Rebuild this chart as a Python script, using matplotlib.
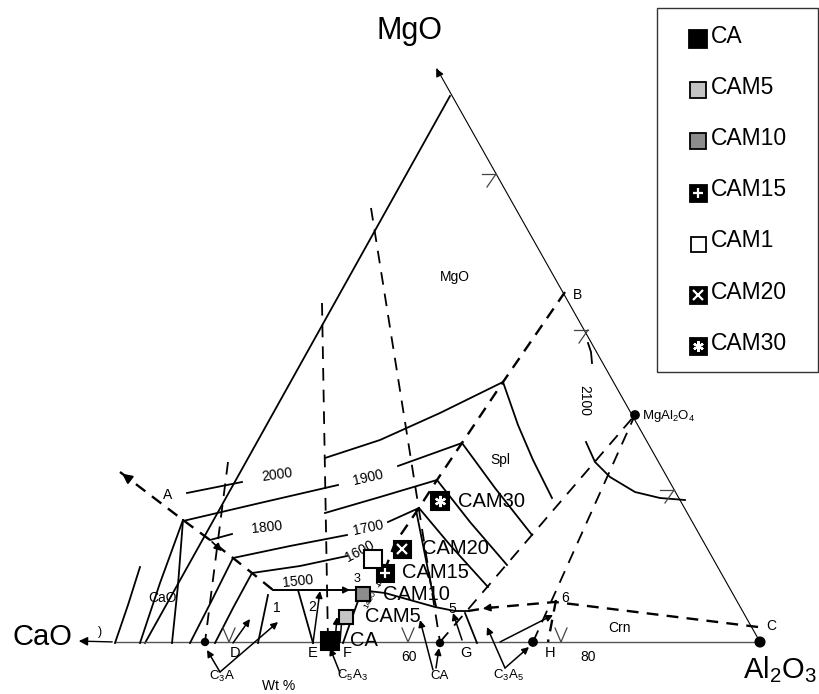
import matplotlib
matplotlib.use("Agg")
import matplotlib.pyplot as plt
from matplotlib.patches import Rectangle

plt.rcParams['font.family'] = ['Liberation Sans', 'DejaVu Sans']
plt.rcParams['mathtext.fontset'] = 'custom'
plt.rcParams['mathtext.rm'] = 'Liberation Sans'
plt.rcParams['mathtext.it'] = 'Liberation Sans'

# ---------------- data (diagram units: x right, y down) ----------------
samples = ["CA", "CAM5", "CAM10", "CAM15", "CAM1", "CAM20", "CAM30"]
sample_x = [330, 346, 363, 385, 373, 402, 440]
sample_y = [641, 617, 594, 573, 559, 549, 501]
sample_face = ["black", "#c4c4c4", "#8c8c8c", "black", "white", "black", "black"]
sample_overlay = [None, None, None, "+", None, "x", (6, 2, 0)]
label_dx = [20, 19, 20, 17, None, 20, 18]   # None = no label beside marker

# triangle frame
right_edge_x = [760, 437]
right_edge_y = [642, 69]
left_edge_x = [450, 145]
left_edge_y = [96, 643]
base_x = [115, 760]
base_y = [642, 642]

# dashed composition joins
join_c3a_x = [228, 205];  join_c3a_y = [462, 642]
join_c5a3_x = [322, 328]; join_c5a3_y = [303, 642]
join_ca_x = [371, 440];   join_ca_y = [208, 642]
join_ca_spl_x = [440, 635]; join_ca_spl_y = [642, 415]
join_c3a5_spl_x = [533, 635]; join_c3a5_spl_y = [642, 415]

# dashed field boundaries
bound_A_x = [120, 183, 210, 233, 252, 273]
bound_A_y = [472, 520, 540, 558, 573, 590]
bound_B_x = [565, 503, 462, 437, 419, 395, 383]
bound_B_y = [292, 382, 443, 480, 508, 543, 575]
bound_C_x = [758, 555, 487, 468]
bound_C_y = [627, 602, 608, 611]

# isotherms (solid)
iso2000L_x = [187, 242];            iso2000L_y = [493, 482]
iso2000R_x = [325, 380, 440, 503];  iso2000R_y = [458, 440, 413, 382]
iso1900L_x = [183, 260, 338];       iso1900L_y = [521, 503, 485]
iso1900R_x = [398, 462];            iso1900R_y = [466, 443]
iso1800L_x = [210, 232];            iso1800L_y = [540, 534]
iso1800R_x = [325, 380, 437];       iso1800R_y = [513, 497, 480]
iso1700L_x = [233, 290, 347];       iso1700L_y = [558, 546, 535]
iso1700R_x = [388, 419];            iso1700R_y = [522, 508]
iso1600L_x = [252, 300, 347];       iso1600L_y = [573, 566, 556]
iso1500_x = [273, 360];             iso1500_y = [590, 590]

# spinel-field isotherms
spl1_x = [503, 518, 533, 552]; spl1_y = [382, 425, 460, 498]
spl2_x = [462, 495, 532];      spl2_y = [443, 488, 535]
spl3_x = [437, 470, 507];      spl3_y = [480, 522, 565]
spl4_x = [419, 450, 488];      spl4_y = [508, 545, 587]
spl5_x = [416, 424, 431, 436]; spl5_y = [510, 550, 585, 606]
spl2100_x = [586, 595, 610, 635, 660, 685]
spl2100_y = [442, 462, 477, 492, 498, 500]
arcB_x = [588, 591, 592];      arcB_y = [343, 352, 363]

# lime field
cao1_x = [115, 128, 140]; cao1_y = [643, 605, 567]
cao2_x = [140, 160, 183]; cao2_y = [643, 583, 520]
cao3_x = [172, 178, 183]; cao3_y = [643, 585, 520]
cao4_x = [190, 212, 233]; cao4_y = [643, 600, 558]
cao5_x = [215, 233, 252]; cao5_y = [643, 608, 573]

# univariant lines near the base
curve35_x = [360, 385, 410, 435, 455, 468]
curve35_y = [590, 593, 600, 607, 611, 611]
line3F_x = [363, 343];  line3F_y = [587, 643]
lineE1_x = [298, 313];  lineE1_y = [590, 643]
lineD_x = [268, 258];   lineD_y = [595, 643]
lineG_x = [465, 477];   lineG_y = [613, 643]
lineH_x = [556, 548];   lineH_y = [600, 642]

# points on the diagram
dots_x = [205, 440, 533, 760, 635]
dots_y = [642, 643, 642, 642, 415]
dots_s = [5, 5, 6, 7, 6]

# arrows: (tail_x, tail_y) -> (head_x, head_y)
arrow_tail_x = [313, 233, 273, 462, 500, 220, 220, 340, 433, 436, 505, 505, 335, 340]
arrow_tail_y = [643, 643, 590, 640, 642, 672, 672, 673, 670, 668, 668, 668, 642, 642]
arrow_head_x = [320, 250, 350, 453, 553, 207, 278, 330, 420, 439, 487, 529, 337, 342]
arrow_head_y = [591, 619, 590, 613, 615, 650, 622, 648, 620, 648, 627, 647, 617, 617]

# text labels
txt = ["2000", "1900", "1800", "1700", "1600", "1500", "2100",
       "MgO", "Spl", "CaO", "Crn", "A", "B", "C", "1", "2", "3", "4", "5", "6",
       "D", "E", "F", "G", "H", "60", "80", "Wt %",
       "C$_3$A", "C$_5$A$_3$", "CA", "C$_3$A$_5$", "1400"]
txt_x = [277, 368, 267, 368, 360, 298, 584,
         455, 500, 163, 620, 168, 578, 771, 277, 312, 357, 378, 452, 565,
         235, 313, 347, 466, 550, 409, 588, 279,
         222, 352, 440, 508, 370]
txt_y = [475, 478, 527, 528, 551, 581, 400,
         277, 460, 598, 628, 495, 295, 626, 608, 607, 579, 584, 609, 598,
         653, 653, 653, 653, 653, 657, 657, 686,
         676, 675, 676, 675, 600]
txt_rot = [8, 13, 6, 12, 28, 6, -90,
           0, 0, 0, 0, 0, 0, 0, 0, 0, 0, -30, 0, 0,
           0, 0, 0, 0, 0, 0, 0, 0,
           0, 0, 0, 0, 62]
txt_size = [10, 10, 10, 10, 10, 10, 10,
            10, 10, 10, 10, 10, 10, 10, 10, 10, 9, 8, 10, 10,
            10.5, 10.5, 10.5, 10.5, 10.5, 10, 10, 10,
            9.5, 9.5, 9.5, 9.5, 6]

# marker sizes in pixels (plot, legend)
sample_px = [18, 14, 14, 17, 18, 17, 18]
legend_px = [18, 16, 16, 17, 15, 17, 17]

# ---------------- drawing ----------------
PT = 0.72  # points per pixel at 100 dpi
fig = plt.figure(figsize=(8.2, 6.94), dpi=100)
ax = fig.add_axes([0, 0, 1, 1])
ax.set_xlim(0, 820)
ax.set_ylim(694, 0)
ax.axis('off')

K = 'black'
ax.plot(right_edge_x, right_edge_y, color=K, lw=0.8)
ax.annotate("", xy=(435, 66), xytext=(440, 76),
            arrowprops=dict(arrowstyle="-|>", color=K, lw=0.8, mutation_scale=12))
ax.plot(left_edge_x, left_edge_y, color=K, lw=1.3)
ax.plot(base_x, base_y, color='#555555', lw=1.0)
ax.annotate("", xy=(76, 641), xytext=(115, 642),
            arrowprops=dict(arrowstyle="-|>", color=K, lw=1.0, mutation_scale=13))
ax.text(100, 632, ")", fontsize=9, ha='center', va='center')

dash_thin = (0, (7, 5))
for xs, ys in [(join_c3a_x, join_c3a_y), (join_c5a3_x, join_c5a3_y),
               (join_ca_x, join_ca_y), (join_ca_spl_x, join_ca_spl_y),
               (join_c3a5_spl_x, join_c3a5_spl_y)]:
    ax.plot(xs, ys, color=K, lw=1.3, linestyle=dash_thin)

dash_thick = (0, (5, 3.5))
for xs, ys in [(bound_A_x, bound_A_y), (bound_B_x, bound_B_y),
               (bound_C_x, bound_C_y), (lineH_x, lineH_y)]:
    ax.plot(xs, ys, color=K, lw=1.7, linestyle=dash_thick)
ax.annotate("", xy=(bound_A_x[0], bound_A_y[0]), xytext=(bound_A_x[0] + 10, bound_A_y[0] + 7.6),
            arrowprops=dict(arrowstyle="-|>", color=K, lw=1.5, mutation_scale=14))
ax.annotate("", xy=(224, 553), xytext=(210, 540),
            arrowprops=dict(arrowstyle="-|>", color=K, lw=1.2, mutation_scale=11))
ax.annotate("", xy=(480, 609), xytext=(495, 607),
            arrowprops=dict(arrowstyle="-|>", color=K, lw=1.2, mutation_scale=11))

solid = [(iso2000L_x, iso2000L_y), (iso2000R_x, iso2000R_y),
         (iso1900L_x, iso1900L_y), (iso1900R_x, iso1900R_y),
         (iso1800L_x, iso1800L_y), (iso1800R_x, iso1800R_y),
         (iso1700L_x, iso1700L_y), (iso1700R_x, iso1700R_y),
         (iso1600L_x, iso1600L_y), (iso1500_x, iso1500_y),
         (spl1_x, spl1_y), (spl2_x, spl2_y), (spl3_x, spl3_y), (spl4_x, spl4_y),
         (spl5_x, spl5_y), (spl2100_x, spl2100_y), (arcB_x, arcB_y),
         (cao1_x, cao1_y), (cao2_x, cao2_y), (cao3_x, cao3_y),
         (cao4_x, cao4_y), (cao5_x, cao5_y),
         (curve35_x, curve35_y), (line3F_x, line3F_y), (lineE1_x, lineE1_y),
         (lineD_x, lineD_y), (lineG_x, lineG_y)]
for xs, ys in solid:
    ax.plot(xs, ys, color=K, lw=1.3)

for tx, ty, hx, hy in zip(arrow_tail_x, arrow_tail_y, arrow_head_x, arrow_head_y):
    ax.annotate("", xy=(hx, hy), xytext=(tx, ty),
                arrowprops=dict(arrowstyle="-|>", color=K, lw=1.1, mutation_scale=10,
                                shrinkA=0, shrinkB=0))

# small edge ticks
for cx, cy in [(492, 176), (584, 332), (670, 492)]:
    ax.plot([cx - 10, cx + 4], [cy - 2, cy - 2], color='#444444', lw=0.9)
    ax.plot([cx - 5, cx + 4], [cy + 11, cy - 2], color='#444444', lw=0.9)
for cx in [229, 408, 561]:
    ax.plot([cx - 6, cx, cx + 6], [628, 642, 628], color='#444444', lw=0.9)

ax.scatter(dots_x, dots_y, s=[d ** 2 for d in dots_s], color=K, zorder=4)

for t, x, y, r, s in zip(txt, txt_x, txt_y, txt_rot, txt_size):
    ax.text(x, y, t, fontsize=s, rotation=r, ha='center', va='center')
ax.text(642, 416, "MgAl$_2$O$_4$", fontsize=9.5, ha='left', va='center')

# axis corner labels
ax.text(410, 31, "MgO", fontsize=22, ha='center', va='center')
ax.text(42, 637, "CaO", fontsize=21, ha='center', va='center')
ax.text(780, 670, "Al$_2$O$_3$", fontsize=21, ha='center', va='center')


def draw_marker(x, y, i, px, lw):
    ax.plot(x, y, marker='s', ms=px * PT, mfc=sample_face[i], mec='black',
            mew=lw, ls='none', zorder=6)
    if sample_overlay[i] is not None:
        ax.plot(x, y, marker=sample_overlay[i], ms=px * PT * 0.62,
                mec='white', mew=1.6, ls='none', zorder=7)


# samples
for i, name in enumerate(samples):
    draw_marker(sample_x[i], sample_y[i], i, sample_px[i], 1.5)
    if label_dx[i] is not None:
        ax.text(sample_x[i] + label_dx[i], sample_y[i], name, fontsize=14.5,
                ha='left', va='center', zorder=8)

# legend (drawn as a boxed key)
ax.add_patch(Rectangle((657, 8), 161, 364, fill=False, ec='#333333', lw=1.0))
for i, name in enumerate(samples):
    ly = 36 + i * 51.2
    draw_marker(698, ly + 3, i, legend_px[i], 1.3)
    ax.text(711, ly, name, fontsize=16.5, ha='left', va='center')

fig.savefig("out.png", dpi=100)
